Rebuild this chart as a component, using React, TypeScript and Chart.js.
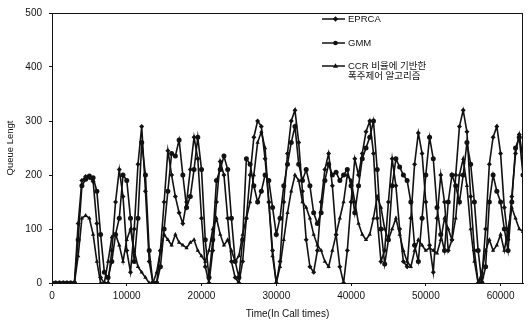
import React, { useEffect, useRef } from "react";
import { Chart, registerables } from "chart.js";

Chart.register(...registerables);

const TIME_STEP = 500;
const X_TICKS = [0, 10000, 20000, 30000, 40000, 50000, 60000];
const Y_TICKS = [0, 100, 200, 300, 400, 500];

const EPRCA = [
  0, 0, 0, 0, 0, 0, 0,
  110, 190, 197, 195, 188, 110, 10, 0, 0, 60,
  150, 210, 160, 60, 20, 100, 220, 290, 170, 40,
  0, 0, 60, 150, 245, 200, 160, 130, 110, 150,
  210, 270, 230, 120, 30, 0, 60, 150, 225, 200,
  120, 40, 10, 0, 40, 120, 200, 270, 300, 290,
  230, 150, 60, 0, 40, 150, 240, 300, 320, 260,
  170, 80, 30, 20, 60, 150, 210, 240, 180, 90,
  30, 0, 60, 150, 230, 200, 240, 280, 300, 240,
  120, 40, 60, 150, 230, 180, 100, 40, 30, 120,
  220, 278, 240, 150, 70, 20, 120, 200, 150, 60,
  80, 200, 290, 320, 280, 160, 60, 0, 10, 100,
  220, 270, 290, 240, 140, 80, 160, 240, 275, 230,
];

const GMM = [
  0, 0, 0, 0, 0, 0, 0,
  80, 180, 192, 198, 195, 170, 90, 20, 10, 40,
  90, 120, 200, 190, 120, 40, 120, 260, 200, 60,
  0, 0, 30, 100, 170, 240, 235, 265, 200, 140,
  160, 210, 270, 210, 80, 10, 80, 190, 210, 235,
  210, 120, 40, 10, 80, 230, 220, 180, 150, 170,
  200, 190, 140, 90, 120, 180, 220, 260, 290, 220,
  190, 210, 180, 130, 110, 130, 190, 220, 200, 205,
  190, 200, 210, 180, 130, 180, 230, 250, 270, 300,
  210, 100, 35, 80, 180, 230, 215, 200, 190, 150,
  70, 40, 120, 200, 270, 230, 140, 90, 60, 150,
  200, 180, 150, 200, 260, 220, 150, 60, 0, 30,
  150, 200, 170, 150, 100, 60, 150, 250, 270, 200,
];

const CCR = [
  0, 0, 0, 0, 0, 0, 0,
  50, 120, 125, 120, 90, 40, 0, 0, 40, 85,
  90, 70, 40, 80, 100, 60, 30, 20, 10, 0,
  0, 20, 60, 90, 80, 70, 90, 75, 70, 65,
  75, 80, 60, 50, 40, 60, 100, 120, 90, 70,
  80, 60, 40, 50, 90, 120, 150, 200, 260, 280,
  250, 150, 50, 0, 30, 80, 130, 170, 200, 190,
  150, 140, 120, 90, 70, 60, 40, 30, 60, 90,
  120, 150, 200, 190, 150, 110, 90, 80, 90, 120,
  160, 140, 100, 80, 100, 120, 90, 60, 40, 30,
  60, 80, 70, 60, 65, 60, 55, 80, 120, 100,
  80, 120, 200, 230, 180, 100, 40, 0, 20, 60,
  80, 60, 70, 90, 60, 100, 140, 120, 100, 95,
];

const SERIES_LABELS = ["EPRCA", "GMM", "CCR 비율에 기반한\n폭주제어 알고리즘"];
const SERIES_VALUES = [EPRCA, GMM, CCR];
const MARKERS = ["rectRot", "circle", "triangle"];

const X_TITLE = "Time(In Call times)";
const Y_TITLE = "Queue Lengt";

const INK = "#111";
const FONT = '"Liberation Sans", Arial, "Noto Sans CJK KR", sans-serif';

function drawMarker(ctx: CanvasRenderingContext2D, style: string, x: number, y: number, r: number) {
  ctx.beginPath();
  if (style === "circle") {
    ctx.arc(x, y, r, 0, Math.PI * 2);
  } else if (style === "triangle") {
    ctx.moveTo(x, y - r * 1.2);
    ctx.lineTo(x + r * 1.1, y + r * 0.8);
    ctx.lineTo(x - r * 1.1, y + r * 0.8);
    ctx.closePath();
  } else {
    ctx.moveTo(x, y - r * 1.2);
    ctx.lineTo(x + r * 1.2, y);
    ctx.lineTo(x, y + r * 1.2);
    ctx.lineTo(x - r * 1.2, y);
    ctx.closePath();
  }
  ctx.fill();
}

const framePlugin = {
  id: "frameAndLegend",
  afterDraw(chart: any) {
    const { ctx, chartArea } = chart;
    ctx.save();
    ctx.strokeStyle = INK;
    ctx.lineWidth = 1;
    ctx.strokeRect(chartArea.left + 0.5, chartArea.top + 0.5, chartArea.right - chartArea.left - 1, chartArea.bottom - chartArea.top);

    const rows = [19, 43, 66];
    const x0 = 322;
    const x1 = 345;
    ctx.fillStyle = INK;
    ctx.font = `9.5px ${FONT}`;
    ctx.textBaseline = "middle";
    chart.data.datasets.forEach((ds: any, i: number) => {
      const y = rows[i];
      ctx.lineWidth = 1.5;
      ctx.beginPath();
      ctx.moveTo(x0, y);
      ctx.lineTo(x1, y);
      ctx.stroke();
      drawMarker(ctx, MARKERS[i], (x0 + x1) / 2 + 2, y, 2.3);
      const lines = String(ds.label).split("\n");
      lines.forEach((t, k) => {
        ctx.fillText(t, 348, y + k * 10);
      });
    });
    ctx.restore();
  },
};

export default function App() {
  const ref = useRef<HTMLCanvasElement | null>(null);

  useEffect(() => {
    if (!ref.current) return;
    const times = EPRCA.map((_, i) => i * TIME_STEP);
    const chart = new Chart(ref.current, {
      type: "line",
      data: {
        datasets: SERIES_VALUES.map((vals, i) => ({
          label: SERIES_LABELS[i],
          data: vals.map((v, k) => ({ x: times[k], y: v })),
          borderColor: INK,
          backgroundColor: INK,
          borderWidth: 1.6,
          pointStyle: MARKERS[i] as any,
          pointRadius: 2.5,
          pointBorderWidth: 0,
          pointBackgroundColor: INK,
          tension: 0,
          fill: false,
        })),
      },
      options: {
        animation: false,
        responsive: false,
        maintainAspectRatio: false,
        layout: { padding: { top: 8, right: 5, left: 0, bottom: 0 } },
        plugins: {
          legend: { display: false },
          tooltip: { enabled: false },
        },
        scales: {
          x: {
            type: "linear",
            min: 0,
            max: 63000,
            afterFit: (s: any) => {
              s.height = 41;
            },
            afterBuildTicks: (s: any) => {
              s.ticks = X_TICKS.map((v) => ({ value: v }));
            },
            grid: { display: true, drawOnChartArea: false, drawTicks: true, tickLength: 3, color: INK },
            border: { display: true, color: INK },
            ticks: {
              color: INK,
              padding: 4,
              maxRotation: 0,
              autoSkip: false,
              font: { family: FONT, size: 10 },
              callback: (v: any) => String(v),
            },
            title: {
              display: true,
              text: X_TITLE,
              color: INK,
              font: { family: FONT, size: 10 },
              padding: { top: 4, bottom: 4 },
            },
          },
          y: {
            min: 0,
            max: 500,
            afterFit: (s: any) => {
              s.width = 52;
            },
            afterBuildTicks: (s: any) => {
              s.ticks = Y_TICKS.map((v) => ({ value: v }));
            },
            grid: { display: true, drawOnChartArea: false, drawTicks: true, tickLength: 3, color: INK },
            border: { display: true, color: INK },
            ticks: {
              color: INK,
              padding: 7,
              font: { family: FONT, size: 10 },
            },
            title: {
              display: true,
              text: Y_TITLE,
              color: INK,
              font: { family: FONT, size: 9.5 },
              padding: { top: 5, bottom: 0 },
            },
          },
        },
      },
      plugins: [framePlugin],
    });
    return () => chart.destroy();
  }, []);

  return (
    <div style={{ position: "fixed", left: 0, top: 0, width: 528, height: 324, background: "#fff" }}>
      <canvas ref={ref} width={528} height={324} />
    </div>
  );
}
